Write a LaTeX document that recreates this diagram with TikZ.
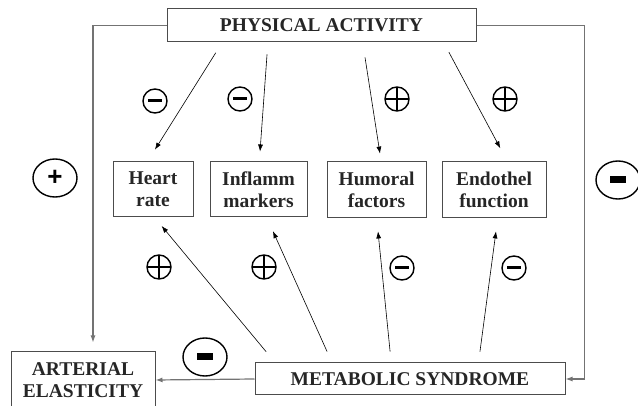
\documentclass[tikz,border=0pt]{standalone}
\usepackage{fontspec}
\setmainfont{Liberation Serif}
\setsansfont{Liberation Sans}
\usetikzlibrary{arrows.meta,shapes.geometric}
\definecolor{boxgray}{gray}{0.3}
\definecolor{linkgray}{gray}{0.45}

\tikzset{
  box/.style={draw=boxgray, line width=1pt, align=center, inner sep=0pt,
    font=\fontsize{19.5}{22}\selectfont\bfseries, text=black!85},
  arr/.style={-{Latex[length=7pt,width=5pt]}, line width=0.6pt},
  link/.style={draw=linkgray, line width=1.2pt, -{Latex[length=7pt,width=5pt]}},
  minussign/.style={circle, draw, line width=1.4pt, minimum size=24pt, inner sep=0pt},
  plussign/.style={circle, draw, line width=1.4pt, minimum size=24pt, inner sep=0pt,
    path picture={\draw[line width=1.4pt]
      (path picture bounding box.north) -- (path picture bounding box.south)
      (path picture bounding box.west) -- (path picture bounding box.east);}},
  bigsign/.style={ellipse, draw, line width=1.4pt, minimum width=44pt, minimum height=38pt, inner sep=0pt}
}

\begin{document}
\begin{tikzpicture}[x=1pt,y=-1pt]
        \useasboundingbox (0,0) rectangle (638,406);
        % boxes
        \node[box, minimum width=309pt, minimum height=33pt](pa) at (321.5,25.5) {PHYSICAL ACTIVITY};
        \node[box, minimum width=80pt, minimum height=55pt](hr) at (153,189.5) {Heart\\rate};
        \node[box, minimum width=97pt, minimum height=55pt](im) at (258.5,189.5) {Inflamm\\markers};
        \node[box, minimum width=99pt, minimum height=56pt](hf) at (376.5,190) {Humoral\\factors};
        \node[box, minimum width=104pt, minimum height=56pt](ef) at (494,190) {Endothel\\function};
        \node[box, minimum width=310pt, minimum height=32pt](ms) at (410,379) {METABOLIC SYNDROME};
        \node[box, minimum width=144pt, minimum height=56pt](ae) at (83,380) {ARTERIAL\\ELASTICITY};
        % signs
        \node[minussign](s1) at (155,101) {\rule{14pt}{3pt}};
        \node[minussign](s2) at (240,99) {\rule{14pt}{3pt}};
        \node[plussign](s3) at (397,99) {};
        \node[plussign](s4) at (505,99) {};
        \node[plussign](s5) at (159,267) {};
        \node[plussign](s6) at (264,267) {};
        \node[minussign](s7) at (402,268) {\rule{14pt}{3pt}};
        \node[minussign](s8) at (514,268) {\rule{14pt}{3pt}};
        \node[bigsign, font=\fontsize{26}{26}\selectfont\sffamily\bfseries](plus) at (55,178) {+};
        \node[bigsign](mr) at (618,180) {\rule{16pt}{7pt}};
        \node[bigsign](mb) at (205,357) {\rule{16pt}{7pt}};
        % arrows from physical activity
        \draw[arr, shorten <=12pt, shorten >=14pt] ([xshift=-99.3pt]pa.south) -- ([xshift=-5.5pt]hr.north);
        \draw[arr, shorten <=12pt, shorten >=10pt] ([xshift=-53.6pt]pa.south) -- ([xshift=0.8pt]im.north);
        \draw[arr, shorten <=15pt, shorten >=8pt] ([xshift=41.2pt]pa.south) -- ([xshift=4.7pt]hf.north);
        \draw[arr, shorten <=11pt, shorten >=15pt] ([xshift=122.2pt]pa.south) -- ([xshift=13.4pt]ef.north);
        % arrows from metabolic syndrome
        \draw[arr, shorten <=14pt, shorten >=11pt] ([xshift=-134.9pt]ms.north) -- ([xshift=1.6pt]hr.south);
        \draw[arr, shorten <=12pt, shorten >=15pt] ([xshift=-78pt]ms.north) -- ([xshift=8.3pt]im.south);
        \draw[arr, shorten <=11pt, shorten >=13pt] ([xshift=-18.8pt]ms.north) -- ([xshift=0.2pt]hf.south);
        \draw[arr, shorten <=11pt, shorten >=13pt] ([xshift=68.5pt]ms.north) -- ([xshift=3.7pt]ef.south);
        % outer links
        \draw[link, shorten >=9pt] (pa.west) -| ([xshift=10pt]ae.north);
        \draw[link] (pa.east) -- ++(108,0) |- (ms.east);
        \draw[link] (ms.west) -- (ae.east);
        \end{tikzpicture}
\end{document}
